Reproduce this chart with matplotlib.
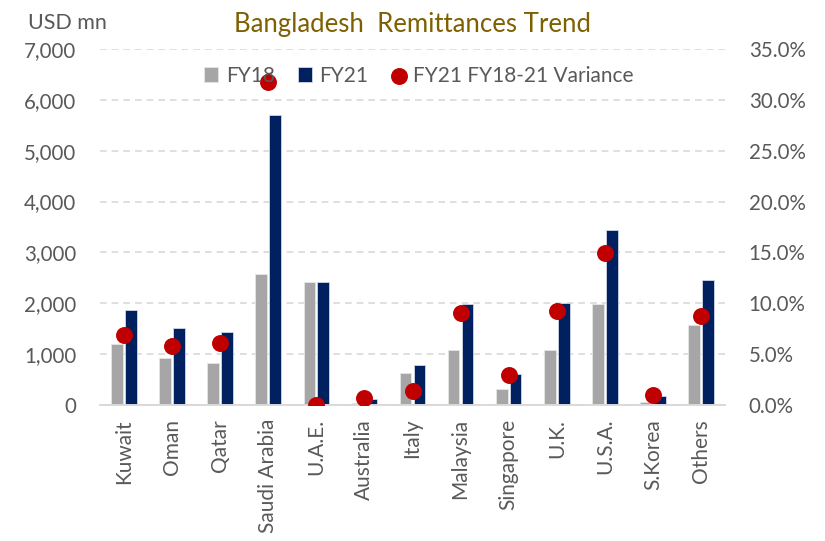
import numpy as np
import matplotlib
import matplotlib.pyplot as plt
from matplotlib.ticker import FuncFormatter, MultipleLocator

matplotlib.use("Agg")
plt.rcParams['font.family'] = ['Lato', 'DejaVu Sans']

countries = ['Kuwait', 'Oman', 'Qatar', 'Saudi Arabia', 'U.A.E.', 'Australia', 'Italy',
             'Malaysia', 'Singapore', 'U.K.', 'U.S.A.', 'S.Korea', 'Others']
fy18 = [1200, 930, 820, 2570, 2410, 40, 635, 1080, 310, 1080, 1980, 65, 1580]
fy21 = [1870, 1510, 1430, 5700, 2420, 110, 790, 1980, 600, 2000, 3440, 180, 2450]
variance = [6.9, 5.8, 6.1, 31.8, 0.0, 0.7, 1.4, 9.0, 2.9, 9.2, 14.9, 1.0, 8.75]

grey_txt = '#595959'
x = np.arange(len(countries))

fig = plt.figure(figsize=(8.25, 5.41), dpi=100)
ax = fig.add_axes([0.121, 0.2514, 0.758, 0.658])
ax2 = ax.twinx()

w = 0.24
b1 = ax.bar(x - 0.145, fy18, w, color='#A6A6A6', edgecolor='#E6E6E6', linewidth=0.6,
            label='FY18', zorder=2)
b2 = ax.bar(x + 0.145, fy21, w, color='#002060', edgecolor='#D0D6E6', linewidth=0.6,
            label='FY21', zorder=2)
sc = ax2.scatter(x, variance, s=125, color='#C00000', zorder=3,
                 label='FY21 FY18-21 Variance')

ax.set_xlim(-0.5, len(countries) - 0.5)
ax.set_ylim(0, 7000)
ax2.set_ylim(0, 35)
ax.yaxis.set_major_locator(MultipleLocator(1000))
ax2.yaxis.set_major_locator(MultipleLocator(5))
ax.yaxis.set_major_formatter(FuncFormatter(lambda v, p: f'{int(v):,}'))
ax2.yaxis.set_major_formatter(FuncFormatter(lambda v, p: f'{v:.1f}%'))

ax.grid(axis='y', color='#D9D9D9', linestyle=(0, (4, 3)), linewidth=1.2, zorder=0)
ax.set_axisbelow(True)
for a in (ax, ax2):
    for s in ('top', 'left', 'right'):
        a.spines[s].set_visible(False)
    a.spines['bottom'].set_color('#D9D9D9')
    a.spines['bottom'].set_linewidth(1.2)
    a.tick_params(length=0, labelsize=14.8, labelcolor=grey_txt)

ax.set_xticks(x)
ax.set_xticklabels(countries, rotation=90, fontsize=15)
ax.tick_params(axis='x', pad=10)
ax.tick_params(axis='y', pad=17)
ax2.tick_params(axis='y', pad=17)

fig.text(0.5, 0.955, 'Bangladesh  Remittances Trend', ha='center', va='center',
         fontsize=18.5, color='#7F6000')
fig.text(0.034, 0.958, 'USD mn', ha='left', va='center', fontsize=15.5, color=grey_txt)

leg = ax2.legend([b1, b2, sc], ['FY18', 'FY21', 'FY21 FY18-21 Variance'],
                 loc='center', bbox_to_anchor=(0.51, 0.925), ncol=3, frameon=False,
                 fontsize=15, labelcolor=grey_txt, handlelength=0.7, handletextpad=0.35,
                 columnspacing=1.1)
leg.set_zorder(5)

fig.savefig('out.png', dpi=100)
